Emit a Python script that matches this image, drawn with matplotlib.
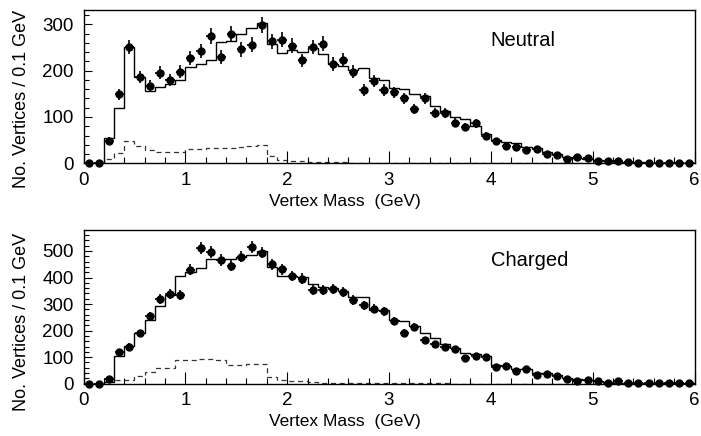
import numpy as np
import matplotlib.pyplot as plt
from matplotlib.ticker import MultipleLocator

plt.rcParams["font.family"] = ["Liberation Sans", "DejaVu Sans"]

# 0.1 GeV bins from 0 to 6 GeV
edges = np.round(np.arange(0, 6.01, 0.1), 2)
centers = edges[:-1] + 0.05

# Neutral vertices
neutral_data = [0, 0, 49, 149, 251, 186, 167, 196, 180, 198,
                228, 242, 275, 230, 280, 246, 256, 299, 264, 267,
                254, 222, 251, 258, 215, 224, 198, 158, 178, 158,
                153, 140, 118, 140, 109, 109, 88, 78, 86, 60,
                48, 37, 36, 28, 31, 20, 17, 9, 13, 11,
                6, 4, 4, 2, 1, 1, 1, 1, 1, 1]
neutral_mc = [0, 0, 55, 120, 251, 186, 157, 165, 171, 180,
              207, 214, 222, 262, 265, 280, 292, 303, 258, 238,
              245, 240, 250, 235, 215, 210, 201, 205, 185, 180,
              162, 160, 149, 145, 124, 113, 99, 95, 80, 63,
              51, 47, 43, 36, 34, 25, 20, 14, 12, 9,
              7, 5, 3, 2, 2, 1, 1, 1, 1, 1]
neutral_bkg = [0, 0, 10, 22, 49, 37, 28, 25, 25, 25,
               30, 30, 33, 33, 34, 36, 37, 39, 15, 8,
               5, 4, 3, 2, 2, 2, 1, 1, 1, 1,
               1, 1, 1, 1, 1, 0, 0, 0, 0, 0,
               0, 0, 0, 0, 0, 0, 0, 0, 0, 0,
               0, 0, 0, 0, 0, 0, 0, 0, 0, 0]

# Charged vertices
charged_data = [0, 0, 18, 118, 140, 190, 254, 319, 339, 335,
                429, 510, 495, 466, 445, 479, 516, 494, 450, 431,
                406, 396, 354, 354, 358, 345, 316, 295, 283, 273,
                235, 191, 213, 163, 148, 138, 129, 98, 106, 100,
                62, 66, 48, 56, 31, 38, 29, 19, 12, 15,
                10, 1, 9, 4, 2, 2, 2, 2, 2, 2]
charged_mc = [0, 0, 8, 104, 142, 190, 240, 293, 334, 406,
              422, 437, 469, 469, 469, 479, 485, 501, 441, 406,
              406, 401, 375, 366, 360, 348, 325, 325, 279, 279,
              241, 235, 216, 191, 173, 148, 135, 116, 110, 104,
              69, 66, 54, 54, 42, 42, 31, 21, 19, 15,
              9, 6, 4, 3, 3, 2, 2, 1, 1, 1]
charged_bkg = [0, 0, 9, 15, 15, 30, 44, 59, 59, 90,
               90, 92, 92, 90, 71, 71, 75, 75, 27, 15,
               9, 9, 5, 4, 3, 3, 2, 2, 2, 1,
               1, 1, 1, 1, 1, 1, 0, 0, 0, 0,
               0, 0, 0, 0, 0, 0, 0, 0, 0, 0,
               0, 0, 0, 0, 0, 0, 0, 0, 0, 0]

W, H = 701, 436
fig = plt.figure(figsize=(W / 100, H / 100), dpi=100)
ax1 = fig.add_axes([83.5 / W, 1 - 163.3 / H, 611 / W, 153.3 / H])
ax2 = fig.add_axes([83.5 / W, 1 - 383.7 / H, 611 / W, 153.7 / H])


def draw_panel(ax, data, mc, bkg, label, ymax, label_y):
    data = np.array(data, dtype=float)
    ax.stairs(mc, edges, color="black", lw=1.0)
    ax.stairs(bkg, edges, color="0.2", lw=0.9, ls=(0, (4, 3)))
    ax.errorbar(centers, data, yerr=np.sqrt(data), xerr=0.045, fmt="o",
                color="black", ms=5, elinewidth=1.2, capsize=0,
                clip_on=False, zorder=3)
    ax.set_xlim(0, 6)
    ax.set_ylim(0, ymax)
    ax.xaxis.set_major_locator(MultipleLocator(1))
    ax.xaxis.set_minor_locator(MultipleLocator(0.2))
    ax.yaxis.set_major_locator(MultipleLocator(100))
    ax.yaxis.set_minor_locator(MultipleLocator(20))
    ax.tick_params(axis="x", which="major", direction="in", length=9,
                   width=0.8, pad=6, labelsize=13.5)
    ax.tick_params(axis="x", which="minor", direction="in", length=4,
                   width=0.8)
    ax.tick_params(axis="y", which="major", direction="in", length=6,
                   width=0.8, pad=7, labelsize=13.5)
    ax.tick_params(axis="y", which="minor", direction="in", length=3.5,
                   width=0.8)
    for s in ax.spines.values():
        s.set_linewidth(1.0)
    ax.set_xlabel("Vertex Mass  (GeV)", fontsize=12.5)
    ax.xaxis.set_label_coords((345 - 83.5) / 611, -0.2)
    ax.set_ylabel("No. Vertices / 0.1 GeV", fontsize=13)
    ax.yaxis.set_label_coords(-0.088, label_y)
    ax.text(4.0, ymax * 0.8, label, fontsize=14.5, va="center", ha="left")


draw_panel(ax1, neutral_data, neutral_mc, neutral_bkg, "Neutral", 331, 0.42)
draw_panel(ax2, charged_data, charged_mc, charged_bkg, "Charged", 579, 0.40)

fig.savefig("out.png", dpi=100)
